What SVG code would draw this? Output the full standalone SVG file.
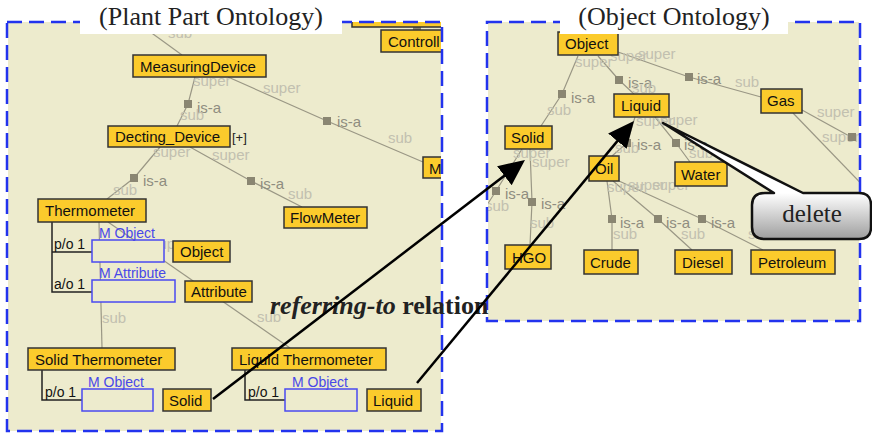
<svg xmlns="http://www.w3.org/2000/svg" width="872" height="434" viewBox="0 0 872 434">
<defs>
<style>
.bg{fill:#EDEBCD}
.frame{fill:none;stroke:#2233EE;stroke-width:2.5;stroke-dasharray:15 7}
.tbox{fill:#fff}
.title{font-family:"Liberation Serif","Times New Roman",serif;font-size:26px;fill:#222;text-anchor:middle}
.node rect{fill:#FBCB2C;stroke:#333;stroke-width:1.5}
.node text{font-family:"Liberation Sans",Arial,sans-serif;font-size:15px;fill:#111}
.part rect{fill:#EDEBCD;stroke:#4A4AF0;stroke-width:1.5}
.part text{font-family:"Liberation Sans",Arial,sans-serif;font-size:14px;fill:#4848E8}
.isa{fill:none;stroke:#9A9785;stroke-width:1.2}
.sq{fill:#8A8672}
.lbl{font-family:"Liberation Sans",Arial,sans-serif;font-size:15px}
.dk{fill:#8F8D80}
.lt{fill:#C2C0B0}
.po{fill:none;stroke:#222;stroke-width:1.5}
.pot{font-family:"Liberation Sans",Arial,sans-serif;font-size:14px;fill:#111}
.ref{fill:none;stroke:#000;stroke-width:2.5;marker-end:url(#ah)}
.rel{font-family:"Liberation Serif","Times New Roman",serif;font-size:26px;font-weight:bold;fill:#222}
</style>
<marker id="ah" markerUnits="userSpaceOnUse" markerWidth="26" markerHeight="26" viewBox="0 0 26 26" refX="22" refY="13" orient="auto">
<path d="M0,1 L26,13 L0,25 Z" fill="#000"/>
</marker>
<rect id="sq" x="-4" y="-4" width="8" height="8"/>
<clipPath id="clipL"><rect x="8" y="22" width="433" height="409"/></clipPath>
<clipPath id="clipR"><rect x="488" y="22" width="371" height="299"/></clipPath>
<linearGradient id="bub" gradientUnits="userSpaceOnUse" x1="0" y1="193" x2="0" y2="240">
<stop offset="0" stop-color="#ffffff"/>
<stop offset="1" stop-color="#9c9c9c"/>
</linearGradient>
</defs>

<!-- panel backgrounds -->
<rect class="bg" x="8" y="22" width="433" height="409"/>
<rect class="bg" x="488" y="22" width="371" height="299"/>

<!-- Left panel: Plant Part Ontology -->
<g clip-path="url(#clipL)">
<g id="connectors-left">
<path class="isa" d="M131,18 L182,55"/>
<path class="isa" d="M195,77 L188,104 L177,126"/>
<path class="isa" d="M228,77 L327,121 L423,162"/>
<path class="isa" d="M160,147 L134,178 L107,199"/>
<path class="isa" d="M190,147 L251,181 L302,207"/>
<path class="isa" d="M99,222 L102,348"/>
<path class="isa" d="M108,222 L290,348"/>
<use href="#sq" class="sq" x="188" y="104"/>
<use href="#sq" class="sq" x="327" y="121"/>
<use href="#sq" class="sq" x="134" y="178"/>
<use href="#sq" class="sq" x="251" y="181"/>
<use href="#sq" class="sq" x="417" y="27"/>
<g class="lbl">
<text class="lt" x="168" y="38">sub</text>
<text class="lt" x="193" y="86">super</text>
<text class="dk" x="197" y="113">is-a</text>
<text class="lt" x="180" y="120">sub</text>
<text class="lt" x="263" y="93">super</text>
<text class="dk" x="337" y="127">is-a</text>
<text class="lt" x="388" y="143">sub</text>
<text class="lt" x="153" y="157">super</text>
<text class="dk" x="143" y="186">is-a</text>
<text class="lt" x="113" y="195">sub</text>
<text class="lt" x="212" y="160">super</text>
<text class="dk" x="260" y="189">is-a</text>
<text class="lt" x="288" y="199">sub</text>
<text class="lt" x="151" y="249">super</text>
<text class="lt" x="102" y="323">sub</text>
<text class="lt" x="257" y="322">sub</text>
</g>
<path class="po" d="M52,222 V292 H92 M52,252 H92"/>
<path class="po" d="M42,370 V400 H82"/>
<path class="po" d="M245,370 V400 H285"/>
<text class="pot" x="54" y="249">p/o 1</text>
<text class="pot" x="54" y="289">a/o 1</text>
<text class="pot" x="45" y="397">p/o 1</text>
<text class="pot" x="248" y="397">p/o 1</text>
</g>
</g>
<g id="part-mobject-1" class="part"><rect x="92" y="240" width="72" height="22"/><text x="99" y="238">M Object</text></g>
<g id="part-mattribute" class="part"><rect x="92" y="280" width="83" height="22"/><text x="99" y="278">M Attribute</text></g>
<g id="part-mobject-2" class="part"><rect x="82" y="389" width="71" height="22"/><text x="88" y="387">M Object</text></g>
<g id="part-mobject-3" class="part"><rect x="285" y="389" width="72" height="22"/><text x="292" y="387">M Object</text></g>
<g clip-path="url(#clipL)">
<g id="n-top-hidden" class="node"><rect x="352" y="12" width="100" height="15"/></g>
<g id="n-controll" class="node"><rect x="381" y="30" width="70" height="22"/><text x="388" y="47">Controll</text></g>
<g id="n-m" class="node"><rect x="423" y="157" width="30" height="21"/><text x="429" y="174">M</text></g>
</g>
<g id="n-measuringdevice" class="node"><rect x="133" y="55" width="133" height="22"/><text x="140" y="72">MeasuringDevice</text></g>
<g id="n-decting" class="node"><rect x="108" y="126" width="122" height="21"/><text x="115" y="142">Decting_Device</text></g>
<text x="232" y="142" style="font-family:'Liberation Sans',Arial,sans-serif;font-size:13px;fill:#222">[+]</text>
<g id="n-thermometer" class="node"><rect x="38" y="199" width="108" height="23"/><text x="45" y="216">Thermometer</text></g>
<g id="n-flowmeter" class="node"><rect x="284" y="207" width="83" height="21"/><text x="290" y="223">FlowMeter</text></g>
<g id="n-object-l" class="node"><rect x="173" y="241" width="57" height="21"/><text x="180" y="257">Object</text></g>
<g id="n-attribute" class="node"><rect x="185" y="281" width="67" height="21"/><text x="191" y="297">Attribute</text></g>
<g id="n-solidthermo" class="node"><rect x="28" y="348" width="147" height="22"/><text x="35" y="365">Solid Thermometer</text></g>
<g id="n-liquidthermo" class="node"><rect x="232" y="348" width="154" height="22"/><text x="239" y="365">Liquid Thermometer</text></g>
<g id="n-solid-l" class="node"><rect x="163" y="389" width="48" height="22"/><text x="169" y="406">Solid</text></g>
<g id="n-liquid-l" class="node"><rect x="367" y="389" width="54" height="22"/><text x="373" y="406">Liquid</text></g>

<!-- Right panel: Object Ontology -->
<g clip-path="url(#clipR)">
<g id="connectors-right">
<path class="isa" d="M578,56 L562,94 L541,126"/>
<path class="isa" d="M598,56 L619,80 L634,94"/>
<path class="isa" d="M618,52 L689,77 L761,97"/>
<path class="isa" d="M793,113 L880,203"/>
<path class="isa" d="M802,110 L851,137"/>
<path class="isa" d="M635,117 L627,143 L612,156"/>
<path class="isa" d="M655,117 L676,143 L690,162"/>
<path class="isa" d="M522,149 L496,191 L480,216"/>
<path class="isa" d="M530,149 L532,202 L530,245"/>
<path class="isa" d="M607,181 L612,219 L612,250"/>
<path class="isa" d="M613,181 L658,219 L692,250"/>
<path class="isa" d="M619,181 L702,219 L763,250"/>
<g class="lbl">
<text class="lt" x="575" y="67">super</text>
<text class="lt" x="610" y="61">super</text>
<text class="lt" x="638" y="59">super</text>
<text class="dk" x="571" y="103">is-a</text>
<text class="lt" x="547" y="115">sub</text>
<text class="dk" x="628" y="88">is-a</text>
<text class="lt" x="632" y="93">sub</text>
<text class="dk" x="697" y="84">is-a</text>
<text class="lt" x="735" y="87">sub</text>
<text class="lt" x="817" y="117">super</text>
<text class="lt" x="822" y="142">super</text>
<text class="lt" x="636" y="126">super</text>
<text class="lt" x="660" y="125">super</text>
<text class="dk" x="637" y="150">is-a</text>
<text class="lt" x="615" y="153">sub</text>
<text class="dk" x="684" y="150">is-a</text>
<text class="lt" x="689" y="158">sub</text>
<text class="lt" x="513" y="158">super</text>
<text class="lt" x="532" y="167">super</text>
<text class="dk" x="505" y="199">is-a</text>
<text class="lt" x="485" y="211">sub</text>
<text class="dk" x="541" y="209">is-a</text>
<text class="lt" x="530" y="228">sub</text>
<text class="lt" x="607" y="192">super</text>
<text class="lt" x="628" y="190">super</text>
<text class="lt" x="652" y="190">super</text>
<text class="dk" x="620" y="228">is-a</text>
<text class="lt" x="613" y="239">sub</text>
<text class="dk" x="666" y="228">is-a</text>
<text class="lt" x="681" y="239">sub</text>
<text class="dk" x="711" y="228">is-a</text>
<text class="lt" x="748" y="239">sub</text>
</g>
<use href="#sq" class="sq" x="562" y="94"/>
<use href="#sq" class="sq" x="619" y="80"/>
<use href="#sq" class="sq" x="689" y="77"/>
<use href="#sq" class="sq" x="852" y="137"/>
<use href="#sq" class="sq" x="627" y="143"/>
<use href="#sq" class="sq" x="676" y="143"/>
<use href="#sq" class="sq" x="496" y="191"/>
<use href="#sq" class="sq" x="532" y="202"/>
<use href="#sq" class="sq" x="612" y="219"/>
<use href="#sq" class="sq" x="658" y="219"/>
<use href="#sq" class="sq" x="702" y="219"/>
</g>
</g>
<g id="n-object-r" class="node"><rect x="558" y="32" width="60" height="23"/><text x="565" y="49">Object</text></g>
<g id="n-liquid-r" class="node"><rect x="614" y="94" width="55" height="23"/><text x="621" y="111">Liquid</text></g>
<g id="n-gas" class="node"><rect x="761" y="89" width="41" height="24"/><text x="767" y="106">Gas</text></g>
<g id="n-solid-r" class="node"><rect x="505" y="126" width="47" height="23"/><text x="511" y="143">Solid</text></g>
<g id="n-oil" class="node"><rect x="589" y="156" width="30" height="25"/><text x="595" y="174">Oil</text></g>
<g id="n-water" class="node"><rect x="675" y="162" width="52" height="24"/><text x="681" y="180">Water</text></g>
<g id="n-hgo" class="node"><rect x="505" y="245" width="46" height="24"/><text x="512" y="263">HGO</text></g>
<g id="n-crude" class="node"><rect x="584" y="250" width="54" height="24"/><text x="590" y="268">Crude</text></g>
<g id="n-diesel" class="node"><rect x="675" y="250" width="57" height="24"/><text x="682" y="268">Diesel</text></g>
<g id="n-petroleum" class="node"><rect x="751" y="250" width="84" height="24"/><text x="758" y="268">Petroleum</text></g>

<!-- frames and titles -->
<rect class="frame" x="7" y="22" width="435" height="409"/>
<rect class="frame" x="487" y="22" width="373" height="299"/>
<rect class="tbox" x="80" y="0" width="262" height="34"/>
<text class="title" x="211" y="25">(Plant Part Ontology)</text>
<rect class="tbox" x="560" y="0" width="228" height="34"/>
<text class="title" x="674" y="25">(Object Ontology)</text>

<!-- referring-to relation -->
<text class="rel" x="270" y="314"><tspan font-style="italic">referring-to</tspan> relation</text>
<g id="connectors-ref">
<path class="ref" d="M213,399 L521.8,162.4"/>
<path class="ref" d="M417,383 L631.4,124.1"/>
</g>

<!-- delete callout -->
<g id="callout-delete">
<path d="M765,193 L774,193 L663,123 L803,193 L859,193 Q871,193 871,205 L871,227 Q871,239 859,239 L765,239 Q752,239 752,227 L752,205 Q752,193 765,193 Z" fill="url(#bub)" stroke="#111" stroke-width="2.5" stroke-linejoin="round"/>
<text x="812" y="222" style="font-family:'Liberation Serif','Times New Roman',serif;font-size:25px;fill:#222;text-anchor:middle">delete</text>
</g>
</svg>
